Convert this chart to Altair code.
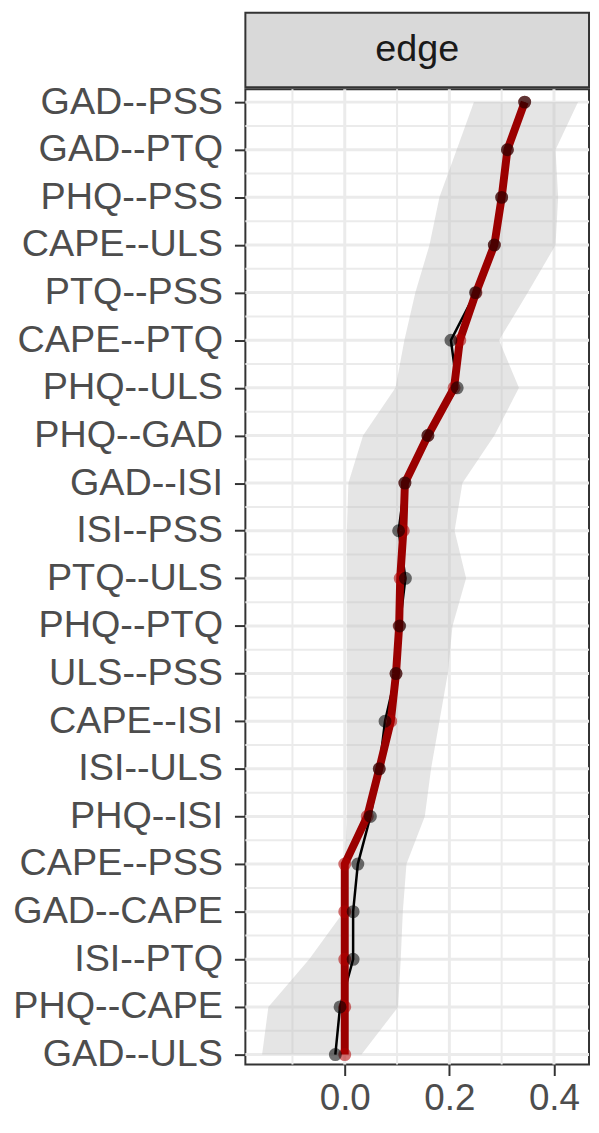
import json
import altair as alt
import pandas as pd

# ---- data (top row first) ----
edges = ["GAD--PSS", "GAD--PTQ", "PHQ--PSS", "CAPE--ULS", "PTQ--PSS", "CAPE--PTQ",
         "PHQ--ULS", "PHQ--GAD", "GAD--ISI", "ISI--PSS", "PTQ--ULS", "PHQ--PTQ",
         "ULS--PSS", "CAPE--ISI", "ISI--ULS", "PHQ--ISI", "CAPE--PSS", "GAD--CAPE",
         "ISI--PTQ", "PHQ--CAPE", "GAD--ULS"]
sample = [0.344, 0.311, 0.300, 0.286, 0.251, 0.220, 0.209, 0.159, 0.115, 0.112, 0.106,
          0.104, 0.098, 0.088, 0.066, 0.043, 0.0, 0.0, 0.0, 0.0, 0.0]
boot_mean = [0.344, 0.311, 0.300, 0.286, 0.250, 0.203, 0.215, 0.159, 0.115, 0.103, 0.116,
             0.105, 0.098, 0.077, 0.066, 0.049, 0.025, 0.016, 0.016, -0.009, -0.018]
ci_lower = [0.247, 0.214, 0.181, 0.162, 0.135, 0.114, 0.097, 0.035, 0.007, 0.004, 0.004,
            0.004, 0.004, 0.004, 0.004, 0.004, 0.000, -0.002, -0.068, -0.146, -0.158]
ci_upper = [0.446, 0.403, 0.408, 0.403, 0.350, 0.295, 0.333, 0.286, 0.225, 0.210, 0.232,
            0.206, 0.197, 0.181, 0.165, 0.153, 0.118, 0.111, 0.107, 0.102, 0.032]
x_major = [0.0, 0.2, 0.4]
x_minor = [-0.1, 0.1, 0.3]
strip_title = "edge"

n = len(edges)
ranks = [n - i for i in range(n)]
y_minor = [r + 0.5 for r in range(1, n)]
df = pd.DataFrame({"edge": edges, "rank": ranks, "sample": sample, "mean": boot_mean,
                   "lower": ci_lower, "upper": ci_upper})

W, H = 346, 982
STRIP_TOP, STRIP_BOTTOM = -77, -2
FONT = "Liberation Sans"
xscale = alt.Scale(domain=[-0.19, 0.467], nice=False, zero=False)
yscale = alt.Scale(domain=[0.79, 21.27], nice=False, zero=False)
label_expr = json.dumps(edges[::-1]) + "[datum.value - 1]"
xaxis = alt.Axis(values=x_major, format=".1f", title=None)
yaxis = alt.Axis(values=ranks, labelExpr=label_expr, title=None)


def X(field):
    return alt.X(field, scale=xscale, axis=xaxis)


def Y(field):
    return alt.Y(field, scale=yscale, axis=yaxis)


grid_col = "#EBEBEB"
vmaj = alt.Chart(pd.DataFrame({"x": x_major})).mark_rule(color=grid_col, strokeWidth=3).encode(x=X("x:Q"))
vmin = alt.Chart(pd.DataFrame({"x": x_minor})).mark_rule(color=grid_col, strokeWidth=2).encode(x=X("x:Q"))
hmaj = alt.Chart(pd.DataFrame({"y": ranks})).mark_rule(color=grid_col, strokeWidth=3).encode(y=Y("y:Q"))
hmin = alt.Chart(pd.DataFrame({"y": y_minor})).mark_rule(color=grid_col, strokeWidth=2).encode(y=Y("y:Q"))

base = alt.Chart(df)
ribbon = base.mark_area(orient="horizontal", color="#BEBEBE", opacity=0.4).encode(
    x=X("lower:Q"), x2="upper:Q", y=Y("rank:Q"))
black_line = base.mark_line(color="black", strokeWidth=2.5).encode(
    x=X("mean:Q"), y=Y("rank:Q"), order="rank:Q")
red_line = base.mark_line(color="#9B0000", strokeWidth=8).encode(
    x=X("sample:Q"), y=Y("rank:Q"), order="rank:Q")
red_pts = base.mark_circle(color="#B00000", opacity=0.55, size=170).encode(
    x=X("sample:Q"), y=Y("rank:Q"))
black_pts = base.mark_circle(color="black", opacity=0.55, size=170).encode(
    x=X("mean:Q"), y=Y("rank:Q"))

# facet strip (ggplot-style) above the panel
strip_df = pd.DataFrame({"label": [strip_title]})
strip_box = alt.Chart(strip_df).mark_rect(
    fill="#D9D9D9", stroke="#333333", strokeWidth=2, clip=False).encode(
    x=alt.value(0), x2=alt.value(W), y=alt.value(STRIP_TOP), y2=alt.value(STRIP_BOTTOM))
strip_text = alt.Chart(strip_df).mark_text(
    fontSize=38, color="#1A1A1A", font=FONT, align="center", baseline="middle").encode(
    text="label:N", x=alt.value(W / 2), y=alt.value((STRIP_TOP + STRIP_BOTTOM) / 2))

chart = alt.layer(vmin, vmaj, hmin, hmaj, ribbon, black_line, red_line, red_pts, black_pts,
                  strip_box, strip_text).properties(
    width=W, height=H,
    padding={"left": 4, "top": 0, "right": 0, "bottom": 0},
).configure_view(
    fill="white", stroke="#333333", strokeWidth=2
).configure_axis(
    labelFont=FONT, labelFontSize=38, labelColor="#4D4D4D", labelLimit=400,
    tickColor="#333333", tickWidth=2, tickSize=11,
    domain=False, grid=False, labelFlush=False, labelOverlap=False,
).configure_axisY(labelPadding=12).configure_axisX(labelPadding=5, labelFontSize=37)

chart.save("out.html", embed_options={"renderer": "svg", "actions": False})
